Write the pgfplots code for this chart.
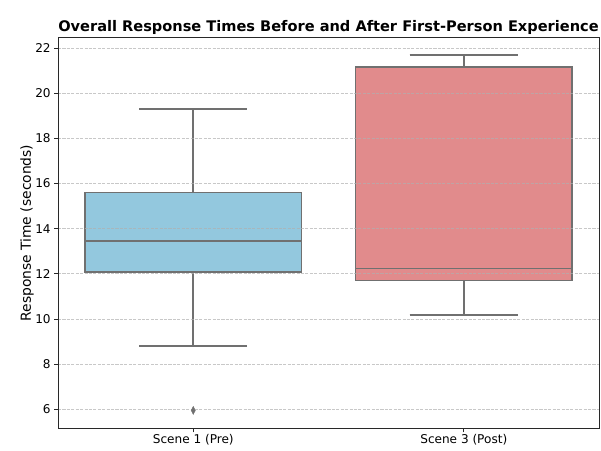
\documentclass[border=0pt]{standalone}
\usepackage{fontspec}
\setmainfont{DejaVu Sans}
\usepackage{pgfplots}
\usepgfplotslibrary{statistics}
\pgfplotsset{compat=1.18}
\definecolor{boxblue}{RGB}{147,200,222}
\definecolor{boxred}{RGB}{225,139,140}
\definecolor{linegray}{RGB}{112,112,112}
\definecolor{gridgray}{RGB}{176,176,176}
\definecolor{spine}{RGB}{40,40,40}
\begin{document}
\begin{tikzpicture}
\useasboundingbox (0pt,0pt) rectangle (576.96pt,432pt);
\begin{axis}[
  at={(55.68pt,20.45pt)}, anchor=south west,
  scale only axis, width=519.4pt, height=375.7pt,
  xmin=-0.5, xmax=1.5, ymin=5.14, ymax=22.47,
  xtick={0,1}, xticklabels={Scene 1 (Pre), Scene 3 (Post)},
  ytick={6,8,10,12,14,16,18,20,22},
  tick align=outside, tick pos=left, major tick length=3.5pt,
  every tick/.style={spine, line width=0.8pt},
  axis line style={spine, line width=0.8pt},
  /pgf/number format/assume math mode=true,
  tick label style={font=\fontsize{11.6}{13}\selectfont},
  xticklabel style={yshift=2pt},
  ymajorgrids,
  grid style={gridgray, opacity=0.7, dash pattern=on 2.96pt off 1.28pt, line width=0.8pt},
  axis on top,
  title={Overall Response Times Before and After First-Person Experience},
  title style={at={(axis description cs:0.5,1)}, anchor=south, inner sep=0pt, yshift=-3.8pt, font=\bfseries\fontsize{14}{16}\selectfont},
  ylabel={Response Time (seconds)},
  ylabel style={at={([xshift=-23pt]axis description cs:0,0.5)}, anchor=south, inner sep=0pt, font=\fontsize{13.3}{15}\selectfont},
  boxplot/draw direction=y,
]
\addplot+[boxplot prepared={draw position=0, lower whisker=8.79, lower quartile=12.09, median=13.45, upper quartile=15.59, upper whisker=19.3, box extend=0.8, whisker extend=0.4},
  draw=linegray, fill=boxblue, line width=1.5pt, solid,
  mark=diamond*, mark size=3.8pt, mark options={xscale=0.7, fill=linegray, draw=linegray, line width=0.4pt}]
  table[row sep=\\, y index=0] {5.95\\};
\addplot+[boxplot prepared={draw position=1, lower whisker=10.18, lower quartile=11.70, median=12.23, upper quartile=21.16, upper whisker=21.70, box extend=0.8, whisker extend=0.4},
  draw=linegray, fill=boxred, line width=1.5pt, solid]
  coordinates {};
\end{axis}
\end{tikzpicture}
\end{document}
